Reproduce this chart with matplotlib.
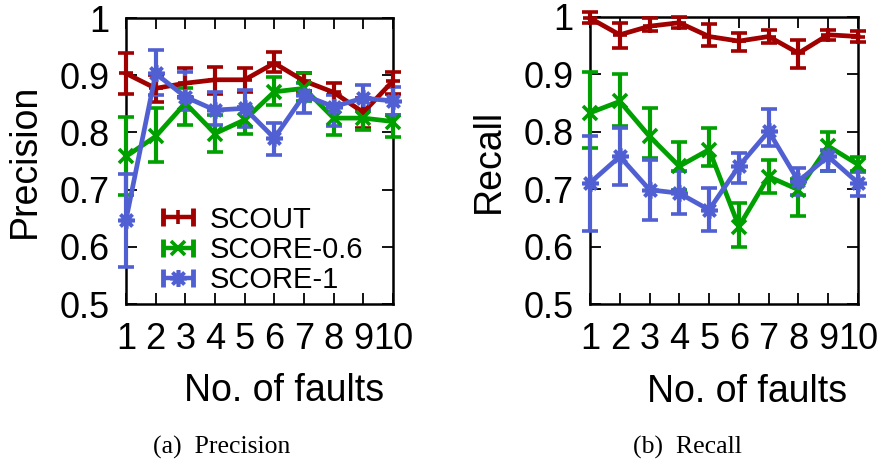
import matplotlib
matplotlib.use("Agg")
import matplotlib.pyplot as plt
from matplotlib.lines import Line2D
from matplotlib.legend_handler import HandlerBase
import numpy as np

plt.rcParams['font.family'] = ['Liberation Sans', 'DejaVu Sans']

faults = [1, 2, 3, 4, 5, 6, 7, 8, 9, 10]
series_names = ["SCOUT", "SCORE-0.6", "SCORE-1"]

# Precision: mean, lower bound, upper bound
prec_scout = [0.903, 0.877, 0.886, 0.892, 0.892, 0.921, 0.890, 0.870, 0.835, 0.890]
prec_scout_lo = [0.868, 0.854, 0.862, 0.868, 0.871, 0.906, 0.872, 0.850, 0.808, 0.868]
prec_scout_hi = [0.938, 0.900, 0.912, 0.915, 0.912, 0.941, 0.903, 0.886, 0.860, 0.906]

prec_s06 = [0.758, 0.793, 0.851, 0.798, 0.822, 0.871, 0.877, 0.825, 0.825, 0.819]
prec_s06_lo = [0.690, 0.749, 0.813, 0.766, 0.798, 0.848, 0.855, 0.795, 0.804, 0.792]
prec_s06_hi = [0.827, 0.842, 0.877, 0.830, 0.845, 0.897, 0.903, 0.845, 0.839, 0.830]

prec_s1 = [0.647, 0.903, 0.862, 0.839, 0.842, 0.790, 0.865, 0.845, 0.860, 0.855]
prec_s1_lo = [0.565, 0.865, 0.839, 0.813, 0.810, 0.760, 0.834, 0.812, 0.839, 0.830]
prec_s1_hi = [0.728, 0.944, 0.906, 0.871, 0.874, 0.816, 0.886, 0.865, 0.882, 0.880]

# Recall: mean, lower bound, upper bound
rec_scout = [0.998, 0.969, 0.984, 0.990, 0.966, 0.958, 0.966, 0.937, 0.969, 0.966]
rec_scout_lo = [0.990, 0.946, 0.975, 0.980, 0.949, 0.940, 0.955, 0.911, 0.960, 0.957]
rec_scout_hi = [1.008, 0.990, 0.998, 1.000, 0.987, 0.972, 0.978, 0.960, 0.978, 0.975]

rec_s06 = [0.833, 0.853, 0.792, 0.740, 0.769, 0.635, 0.722, 0.699, 0.775, 0.743]
rec_s06_lo = [0.772, 0.810, 0.754, 0.699, 0.740, 0.600, 0.693, 0.653, 0.731, 0.730]
rec_s06_hi = [0.905, 0.900, 0.841, 0.783, 0.807, 0.676, 0.751, 0.717, 0.800, 0.756]

rec_s1 = [0.711, 0.757, 0.699, 0.693, 0.664, 0.740, 0.801, 0.714, 0.757, 0.711]
rec_s1_lo = [0.627, 0.708, 0.647, 0.656, 0.627, 0.711, 0.775, 0.690, 0.731, 0.688]
rec_s1_hi = [0.792, 0.807, 0.751, 0.731, 0.702, 0.763, 0.839, 0.737, 0.769, 0.731]

colors = ["#a00000", "#00a000", "#5060d2"]
markers = ["+", "x", (8, 2, 0)]
marker_sizes = [10, 10, 12]

W, H = 886, 463
fig = plt.figure(figsize=(W / 100, H / 100), dpi=100)

ax_p = fig.add_axes([126 / W, 1 - 304 / H, (393 - 126) / W, (304 - 18) / H])
ax_r = fig.add_axes([590 / W, 1 - 304 / H, (858 - 590) / W, (304 - 17) / H])

TICK_FS = 26
LABEL_FS = 27


class ErrorKeyHandler(HandlerBase):
    """Key sample: horizontal bar with end caps and the point symbol in the middle."""

    def create_artists(self, legend, orig_handle, xdescent, ydescent,
                       width, height, fontsize, trans):
        c = orig_handle.get_color()
        m = orig_handle.get_marker()
        ms = orig_handle.get_markersize()
        y = height / 2 - ydescent
        x0, x1 = -xdescent, width - xdescent
        bar = Line2D([x0, x1], [y, y], color=c, lw=3.2, solid_capstyle="butt")
        caps = Line2D([x0, x1], [y, y], color=c, ls="none", marker="|",
                      markersize=13, markeredgewidth=3.5)
        pts = Line2D([(x0 + x1) / 2], [y], color=c, ls="none", marker=m,
                     markersize=ms, markeredgewidth=2.6)
        for a in (bar, caps, pts):
            a.set_transform(trans)
        return [bar, caps, pts]


def draw(ax, data, label_x):
    for (mean, lo, hi), c, m, ms, name in zip(data, colors, markers,
                                              marker_sizes, series_names):
        mean = np.array(mean)
        yerr = [mean - np.array(lo), np.array(hi) - mean]
        h = ax.errorbar(faults, mean, yerr=yerr, color=c, lw=3.4, elinewidth=3.0,
                        capsize=5.5, capthick=3.5, marker=m, markersize=ms,
                        markeredgewidth=2.6, clip_on=False, label=name, zorder=3)
        for part in h.lines[1] + h.lines[2]:
            part.set_clip_on(False)
    ax.set_xlim(1, 10)
    ax.set_ylim(0.5, 1.0)
    ax.set_xticks(faults)
    ax.set_xticklabels([str(f) for f in faults])
    ax.set_yticks([0.5, 0.6, 0.7, 0.8, 0.9, 1.0])
    ax.set_yticklabels(["0.5", "0.6", "0.7", "0.8", "0.9", "1"])
    ax.tick_params(direction="in", length=8, width=1.3, top=True, right=True,
                   labelsize=TICK_FS)
    ax.tick_params(axis="x", pad=13)
    ax.tick_params(axis="y", pad=12)
    for s in ax.spines.values():
        s.set_linewidth(1.8)
    xl = ax.set_xlabel("No. of faults", fontsize=LABEL_FS)
    xl.set_verticalalignment("center")
    ax.xaxis.set_label_coords(label_x, -0.305)


draw(ax_p, [(prec_scout, prec_scout_lo, prec_scout_hi),
            (prec_s06, prec_s06_lo, prec_s06_hi),
            (prec_s1, prec_s1_lo, prec_s1_hi)], 0.592)
draw(ax_r, [(rec_scout, rec_scout_lo, rec_scout_hi),
            (rec_s06, rec_s06_lo, rec_s06_hi),
            (rec_s1, rec_s1_lo, rec_s1_hi)], 0.586)

ax_p.set_ylabel("Precision", fontsize=LABEL_FS, labelpad=12)
ax_r.set_ylabel("Recall", fontsize=LABEL_FS, labelpad=12)

key_handles = [Line2D([], [], color=c, marker=m, markersize=ms)
               for c, m, ms in zip(colors, markers, marker_sizes)]
leg = ax_p.legend(key_handles, series_names, loc="lower left",
                  bbox_to_anchor=(0.094, -0.007), frameon=False, fontsize=21,
                  handlelength=1.05, handletextpad=0.55, labelspacing=0.08,
                  borderaxespad=0.0,
                  handler_map={Line2D: ErrorKeyHandler()})

fig.text(222 / W, 1 - 447 / H, "(a)  Precision", family="Liberation Serif",
         fontsize=18.5, ha="center", va="center")
fig.text(687 / W, 1 - 447 / H, "(b)  Recall", family="Liberation Serif",
         fontsize=18.5, ha="center", va="center")

fig.savefig("out.png", dpi=100)
